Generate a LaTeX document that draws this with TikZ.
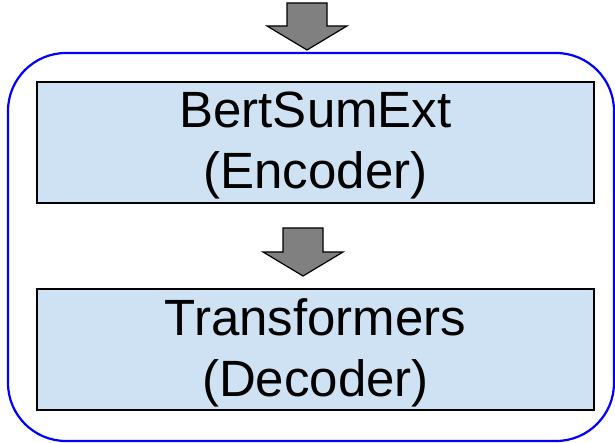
\documentclass[tikz,border=0pt]{standalone}
\usepackage{fontspec}
\setmainfont{Liberation Sans}
\definecolor{boxfill}{HTML}{CFE2F3}
\definecolor{arrowgray}{HTML}{808080}
\definecolor{frameblue}{HTML}{0000FF}
\tikzset{
  stagebox/.style={draw=black, line width=2pt, fill=boxfill, rectangle,
    minimum width=557pt, minimum height=121pt, inner sep=0pt},
  stagelabel/.style={inner sep=0pt, align=center,
    font=\fontsize{51pt}{61pt}\selectfont},
  blockarrow/.style={draw=black, line width=1.2pt, fill=arrowgray, line join=miter},
  frame/.style={draw=frameblue, line width=2.2pt, rounded corners=58pt}
}
\begin{document}
\begin{tikzpicture}[x=1pt, y=-1pt]
  \useasboundingbox (0,0) rectangle (615,443);
  % outer frame around the encoder/decoder stack
  \draw[frame] (8,53) rectangle (614,441);
  % boxes
  \node[stagebox] (enc) at (315.5,142.5) {};
  \node[stagebox] (dec) at (315.5,349.5) {};
  \node[stagelabel] (enctext) at ([yshift=-3pt]enc.center) {BertSumExt\\(Encoder)};
  \node[stagelabel] (dectext) at ([yshift=-3pt]dec.center) {Transformers\\(Decoder)};
  % input arrow entering from above
  \draw[blockarrow] (287,3) -- (327,3) -- (327,26) -- (347,26) -- (307,50)
    -- (267,26) -- (287,26) -- cycle;
  % arrow from encoder to decoder
  \draw[blockarrow] (283,228) -- (323,228) -- (323,252) -- (343,252) -- (303,276)
    -- (263,252) -- (283,252) -- cycle;
\end{tikzpicture}
\end{document}
